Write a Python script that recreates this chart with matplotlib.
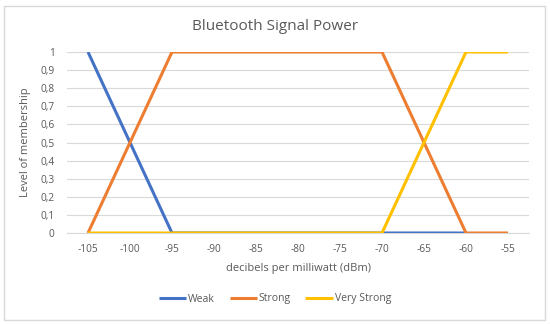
import numpy as np
import matplotlib

matplotlib.use('Agg')
from matplotlib import pyplot as plt

plt.rcParams['font.family'] = ['Open Sans', 'DejaVu Sans']

categories = ['-105', '-100', '-95', '-90', '-85', '-80', '-75', '-70', '-65', '-60', '-55']
weak = [1, 0.5, 0, 0, 0, 0, 0, 0, 0, 0, np.nan]
strong = [0, 0.5, 1, 1, 1, 1, 1, 1, 0.5, 0, 0]
very_strong = [0, 0, 0, 0, 0, 0, 0, 0, 0.5, 1, 1]
y_ticks = [0, 0.1, 0.2, 0.3, 0.4, 0.5, 0.6, 0.7, 0.8, 0.9, 1]

grey = '#595959'
fig = plt.figure(figsize=(5.5, 3.24), dpi=100)
ax = fig.add_axes([67 / 550, 1 - 233 / 324, (529 - 67) / 550, (233 - 52) / 324])

x = np.arange(len(categories))
ax.plot(x, weak, color='#4472C4', linewidth=2.2, label='Weak', solid_capstyle='butt')
ax.plot(x, strong, color='#ED7D31', linewidth=2.2, label='Strong', solid_capstyle='butt')
ax.plot(x, very_strong, color='#FFC000', linewidth=2.2, label='Very Strong', solid_capstyle='butt')

ax.set_xlim(-0.5, len(categories) - 0.5)
ax.set_ylim(0, 1)
ax.set_xticks(x)
ax.set_xticklabels(categories)
ax.set_yticks(y_ticks)
ax.set_yticklabels([('%g' % v).replace('.', ',') for v in y_ticks])
ax.tick_params(length=0, labelsize=7.3, colors=grey, pad=8)
ax.tick_params(axis='y', pad=9)
ax.grid(axis='y', color='#d9d9d9', linewidth=0.8)
ax.set_axisbelow(True)
for s in ['top', 'right', 'left']:
    ax.spines[s].set_visible(False)
ax.spines['bottom'].set_color('#d9d9d9')
ax.spines['bottom'].set_zorder(0)

ax.set_xlabel('decibels per milliwatt (dBm)', fontsize=8, color=grey, labelpad=6)
ax.set_ylabel('Level of membership', fontsize=8, color=grey, labelpad=7)
fig.text(0.5, 1 - 27 / 324, 'Bluetooth Signal Power', ha='center', va='center', fontsize=11, color=grey)

fig.legend(loc='center', bbox_to_anchor=(0.5, 1 - 299 / 324), ncol=3, frameon=False,
           fontsize=7.5, labelcolor=grey, handlelength=2.6, handletextpad=0.2, columnspacing=1.4)

fig.patches.append(plt.Rectangle((4 / 550, 4 / 324), 541 / 550, 314 / 324, transform=fig.transFigure,
                                 fill=False, edgecolor='#d9d9d9', linewidth=1))
fig.savefig('out.png', dpi=100)
